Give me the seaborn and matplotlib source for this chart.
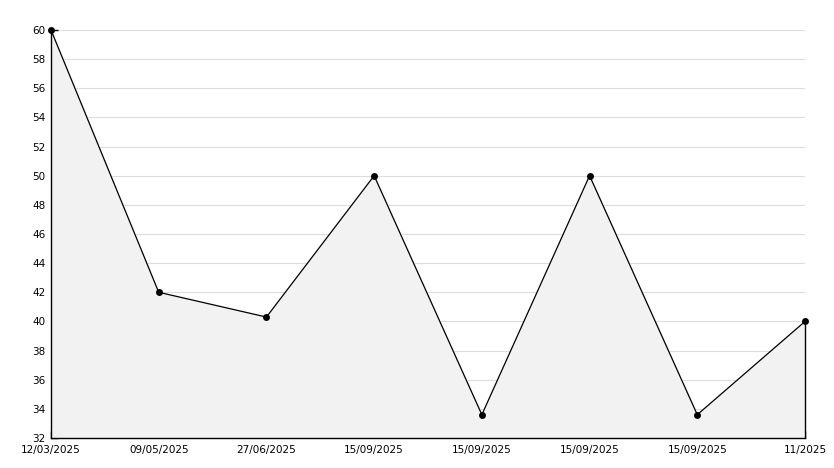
import numpy as np
import pandas as pd
import seaborn as sns
import matplotlib.pyplot as plt
from matplotlib.ticker import MultipleLocator

# Chart values
dates = ["12/03/2025", "09/05/2025", "27/06/2025", "15/09/2025",
         "15/09/2025", "15/09/2025", "15/09/2025", "11/2025"]
values = [60, 42, 40.3, 50, 33.6, 50, 33.6, 40]

df = pd.DataFrame({"pos": np.arange(len(values)), "value": values})

sns.set_style("white")
plt.rcParams['font.family'] = ['DejaVu Sans']

fig = plt.figure(figsize=(8.34, 4.68), dpi=100)
ax = fig.add_axes([51 / 834, 1 - 438 / 468, 754 / 834, 408 / 468])

# light area under the line, closed on the right edge
ax.fill_between(df["pos"], df["value"], 32, color="#f2f2f2", zorder=1)
ax.plot([df["pos"].iloc[-1]] * 2, [32, values[-1]], color="black", lw=1,
        zorder=2, clip_on=False)

sns.lineplot(data=df, x="pos", y="value", ax=ax, color="black", lw=0.9,
             marker="o", markersize=5, markeredgewidth=0, zorder=3,
             clip_on=False)

ax.set_xlim(0, len(values) - 1)
ax.set_ylim(32, 60)
ax.yaxis.set_major_locator(MultipleLocator(2))
ax.yaxis.set_minor_locator(MultipleLocator(1))
ax.set_xticks(df["pos"])
ax.set_xticklabels(dates)
ax.grid(axis="y", which="major", color="#dddddd", lw=0.8, zorder=0)
ax.set_axisbelow(True)

for side in ["top", "right"]:
    ax.spines[side].set_visible(False)
for side in ["left", "bottom"]:
    ax.spines[side].set_color("black")
    ax.spines[side].set_linewidth(1)

ax.tick_params(axis="both", which="major", direction="in", length=5, width=1,
               color="black", labelcolor="black", labelsize=7.5,
               left=True, bottom=True)
ax.tick_params(axis="x", pad=5)
ax.tick_params(axis="y", pad=4)
ax.tick_params(axis="y", which="minor", direction="in", length=3, width=1,
               color="black", left=True)
ax.set_xlabel("")
ax.set_ylabel("")

fig.savefig("out.png", dpi=100)
